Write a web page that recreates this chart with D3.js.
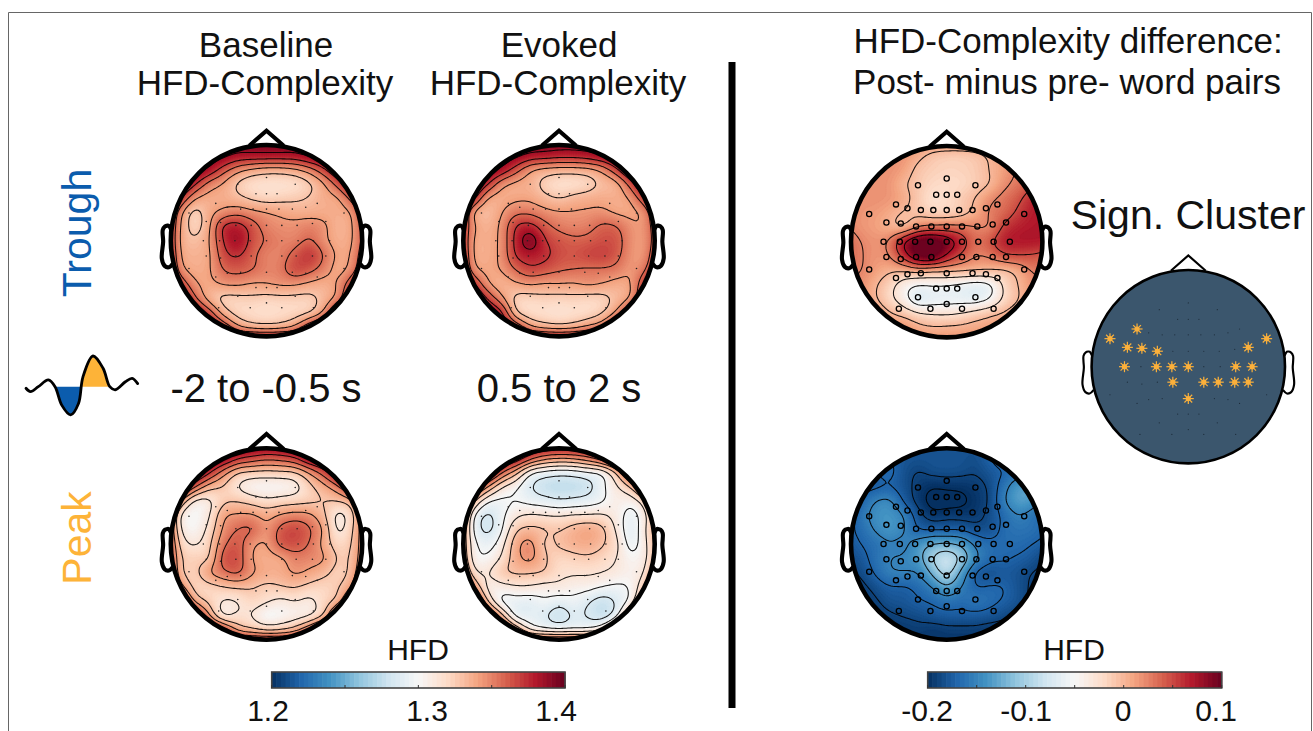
<!DOCTYPE html>
<html><head><meta charset="utf-8">
<script src="https://cdn.jsdelivr.net/npm/d3@7"></script>
<style>html,body{margin:0;padding:0;background:#fff}svg{display:block}text{font-family:"Liberation Sans",Arial,sans-serif;fill:#111}</style>
</head><body><svg id="c" width="1313" height="731"></svg>
<script>
// Values on a 15x15 scalp grid, thousandths of HFD (top row first)
const baselineTrough=[
[1395,1395,1395,1395,1395,1395,1395,1395,1395,1395,1395,1395,1395,1395,1395],
[1395,1395,1395,1395,1392,1385,1385,1385,1385,1385,1392,1395,1395,1395,1395],
[1398,1398,1395,1385,1365,1350,1342,1338,1338,1342,1352,1370,1390,1395,1395],
[1398,1395,1375,1352,1342,1327,1319,1317,1317,1319,1327,1342,1365,1390,1395],
[1395,1375,1345,1338,1338,1332,1326,1322,1324,1326,1330,1338,1342,1365,1390],
[1390,1348,1324,1338,1346,1351,1346,1343,1340,1337,1337,1338,1338,1345,1380],
[1385,1342,1323,1340,1374,1378,1364,1351,1347,1347,1351,1346,1335,1342,1370],
[1385,1340,1331,1342,1372,1386,1365,1356,1351,1351,1359,1346,1337,1342,1368],
[1390,1342,1336,1340,1366,1373,1360,1351,1351,1362,1373,1356,1340,1345,1375],
[1395,1348,1338,1341,1358,1362,1358,1351,1353,1367,1362,1350,1338,1350,1380],
[1395,1370,1345,1340,1345,1346,1342,1343,1346,1345,1340,1337,1345,1370,1390],
[1395,1390,1360,1336,1325,1325,1326,1324,1325,1325,1325,1334,1348,1385,1395],
[1395,1395,1385,1365,1336,1323,1320,1318,1320,1322,1327,1345,1385,1395,1395],
[1395,1395,1395,1385,1370,1345,1335,1333,1335,1345,1370,1385,1395,1395,1395],
[1395,1395,1395,1395,1395,1395,1395,1395,1395,1395,1395,1395,1395,1395,1395]];
const evokedTrough=[
[1395,1395,1395,1395,1395,1395,1395,1395,1395,1395,1395,1395,1395,1395,1395],
[1395,1395,1395,1395,1392,1385,1383,1380,1380,1383,1390,1395,1395,1395,1395],
[1395,1395,1395,1385,1365,1346,1340,1338,1338,1340,1348,1370,1395,1395,1395],
[1395,1395,1375,1348,1340,1336,1324,1318,1318,1322,1332,1338,1365,1395,1395],
[1395,1380,1343,1338,1340,1340,1333,1328,1333,1336,1338,1338,1345,1372,1395],
[1395,1343,1332,1342,1353,1353,1347,1344,1344,1345,1346,1340,1340,1348,1385],
[1385,1346,1336,1346,1372,1377,1362,1353,1350,1352,1360,1358,1346,1346,1375],
[1385,1342,1338,1346,1376,1396,1372,1364,1360,1361,1365,1364,1347,1345,1372],
[1390,1342,1338,1346,1373,1380,1375,1366,1364,1368,1370,1362,1346,1346,1380],
[1395,1348,1340,1344,1358,1368,1364,1359,1357,1355,1355,1353,1344,1355,1385],
[1395,1375,1345,1336,1341,1345,1342,1343,1342,1346,1343,1338,1342,1372,1395],
[1395,1395,1370,1346,1325,1323,1325,1324,1325,1323,1324,1333,1344,1380,1395],
[1395,1395,1390,1375,1330,1320,1318,1316,1318,1320,1327,1345,1375,1395,1395],
[1395,1395,1395,1385,1370,1345,1336,1333,1336,1345,1355,1380,1395,1395,1395],
[1395,1395,1395,1395,1395,1395,1395,1395,1395,1395,1395,1395,1395,1395,1395]];
const baselinePeak=[
[1395,1395,1395,1395,1395,1395,1395,1395,1395,1395,1395,1395,1395,1395,1395],
[1395,1395,1395,1395,1390,1375,1368,1362,1365,1372,1390,1395,1395,1395,1395],
[1395,1395,1395,1375,1350,1330,1326,1325,1326,1328,1345,1365,1390,1395,1395],
[1395,1390,1360,1335,1328,1313,1304,1302,1303,1308,1325,1338,1355,1385,1395],
[1395,1345,1310,1311,1326,1328,1323,1318,1321,1323,1326,1329,1329,1340,1385],
[1375,1312,1301,1312,1341,1345,1345,1338,1345,1349,1346,1332,1309,1325,1365],
[1375,1314,1303,1319,1346,1358,1359,1345,1362,1368,1359,1341,1310,1328,1360],
[1375,1324,1312,1325,1354,1363,1345,1342,1362,1365,1356,1338,1321,1330,1360],
[1380,1330,1325,1328,1363,1365,1342,1338,1340,1351,1349,1345,1327,1332,1362],
[1385,1332,1325,1343,1354,1360,1345,1338,1338,1345,1340,1333,1324,1335,1370],
[1390,1350,1324,1323,1328,1331,1330,1325,1328,1330,1324,1322,1328,1345,1385],
[1395,1385,1340,1326,1312,1314,1322,1316,1310,1314,1310,1322,1335,1375,1395],
[1395,1395,1385,1345,1312,1317,1313,1300,1303,1307,1312,1330,1380,1395,1395],
[1395,1395,1395,1385,1370,1340,1332,1326,1328,1338,1360,1385,1395,1395,1395],
[1395,1395,1395,1395,1395,1395,1395,1395,1395,1395,1395,1395,1395,1395,1395]];
const evokedPeak=[
[1390,1390,1390,1390,1390,1390,1390,1390,1390,1390,1390,1390,1390,1390,1390],
[1390,1390,1390,1390,1385,1365,1350,1345,1347,1355,1370,1390,1390,1390,1390],
[1390,1390,1390,1360,1335,1303,1295,1292,1293,1298,1302,1330,1375,1390,1390],
[1390,1375,1345,1315,1303,1287,1278,1275,1276,1280,1297,1312,1330,1370,1390],
[1385,1335,1302,1297,1300,1295,1292,1288,1290,1293,1298,1308,1305,1325,1375],
[1370,1303,1283,1296,1311,1316,1314,1313,1315,1315,1316,1308,1294,1310,1345],
[1360,1299,1282,1298,1327,1333,1330,1328,1335,1340,1333,1312,1291,1312,1345],
[1355,1306,1294,1308,1338,1348,1326,1331,1336,1338,1331,1318,1294,1310,1340],
[1360,1308,1302,1316,1338,1347,1331,1322,1324,1326,1322,1314,1303,1310,1340],
[1375,1320,1313,1327,1331,1330,1328,1318,1316,1316,1314,1310,1306,1315,1360],
[1385,1350,1310,1308,1312,1312,1308,1310,1306,1305,1300,1297,1302,1330,1375],
[1390,1385,1330,1297,1294,1292,1298,1292,1296,1288,1279,1288,1305,1350,1390],
[1390,1390,1375,1335,1295,1292,1288,1278,1288,1285,1279,1295,1345,1385,1390],
[1390,1390,1390,1375,1345,1312,1303,1301,1302,1303,1315,1350,1385,1390,1390],
[1390,1390,1390,1390,1390,1390,1390,1390,1390,1390,1390,1390,1390,1390,1390]];
// Post minus pre difference, thousandths of HFD
const diffTrough=[
[20,20,20,20,20,20,20,20,20,20,20,20,30,30,30],
[20,20,20,20,18,6,-6,-10,-10,-6,3,15,25,30,30],
[20,20,20,20,12,-6,-12,-15,-14,-10,1,13,28,35,35],
[20,20,20,17,2,-8,-18,-20,-18,-10,0,20,32,45,50],
[20,20,20,17,8,-9,-24,-20,-10,1,20,32,45,65,70],
[25,18,15,8,-2,-5,-13,-14,-8,6,28,38,55,70,72],
[25,18,13,5,-1,25,32,34,32,26,25,55,68,72,72],
[38,25,19,28,75,105,112,92,65,35,45,68,72,72,70],
[38,27,18,24,60,100,105,70,45,25,28,45,48,46,40],
[30,26,14,4,3,10,5,5,3,1,-1,-3,8,28,30],
[20,20,3,-15,-38,-50,-48,-50,-55,-62,-55,-20,1,18,25],
[20,20,3,-18,-40,-68,-62,-60,-60,-62,-50,-20,-1,20,25],
[20,20,20,3,-8,-22,-27,-28,-24,-15,-6,3,15,20,20],
[20,20,20,20,20,8,3,4,6,10,15,20,20,20,20],
[20,20,20,20,20,20,20,20,20,20,20,20,20,20,20]];
const diffPeak=[
[-180,-180,-180,-180,-180,-180,-180,-180,-180,-180,-180,-180,-180,-180,-180],
[-170,-170,-170,-170,-178,-180,-180,-180,-180,-182,-170,-160,-160,-170,-170],
[-170,-170,-170,-165,-180,-188,-183,-182,-183,-186,-178,-170,-160,-160,-170],
[-175,-175,-175,-170,-180,-192,-199,-197,-197,-193,-184,-158,-135,-138,-170],
[-175,-170,-150,-146,-172,-193,-205,-206,-203,-196,-185,-152,-132,-138,-170],
[-185,-160,-143,-138,-150,-180,-195,-192,-193,-193,-182,-165,-150,-160,-170],
[-175,-165,-148,-138,-148,-170,-172,-172,-172,-180,-180,-165,-160,-162,-170],
[-180,-170,-162,-152,-155,-140,-125,-122,-130,-155,-165,-165,-165,-170,-175],
[-185,-178,-162,-150,-148,-135,-100,-80,-105,-145,-165,-168,-172,-178,-190],
[-190,-185,-168,-152,-150,-150,-120,-90,-132,-172,-180,-176,-180,-188,-190],
[-192,-192,-182,-172,-172,-165,-150,-128,-150,-170,-168,-170,-180,-190,-192],
[-195,-195,-190,-180,-178,-172,-168,-160,-165,-160,-165,-172,-180,-192,-195],
[-195,-195,-195,-190,-186,-183,-178,-175,-175,-175,-178,-184,-190,-195,-195],
[-195,-195,-195,-195,-195,-192,-195,-192,-192,-192,-195,-195,-195,-195,-195],
[-195,-195,-195,-195,-195,-195,-195,-195,-195,-195,-195,-195,-195,-195,-195]];
const hfdLevels=[1286,1300,1314,1329,1343,1357,1371,1386];
const diffTroughLevels=[-75,-50,-25,0,25,50,75];
const diffPeakLevels=[-200,-187,-170,-150,-125,-100];
const rdbuStops=["#053061","#2166ac","#4393c3","#92c5de","#d1e5f0","#f7f7f7","#fddbc7","#f4a582","#d6604d","#b2182b","#67001f"];
// Sensor layout, unit-circle coordinates (x right, y up)
const sensorX=[0,-.30,.30,-.11,0,.11,-.53,.53,-.41,-.27,-.14,0,.13,.27,.41,-.81,.81,-.63,-.48,.62,-.32,-.16,0,.16,.32,.48,-.66,-.49,-.33,-.17,0,.16,.33,.49,.66,-.63,-.48,-.32,-.16,.16,.31,.48,.62,-.81,.81,-.53,-.41,-.27,0,.27,.41,.53,-.11,0,.11,-.30,.30,0,-.50,-.17,.16,.49];
const sensorY=[.66,.59,.59,.49,.49,.49,.39,.39,.35,.33,.33,.33,.33,.33,.35,.29,.29,.20,.19,.20,.16,.16,.16,.16,.16,.18,0,0,0,0,0,0,0,0,0,-.16,-.18,-.16,-.16,-.16,-.16,-.16,-.16,-.29,-.29,-.38,-.34,-.33,-.33,-.33,-.34,-.38,-.49,-.49,-.49,-.58,-.58,-.65,-.70,-.70,-.70,-.70];
const clusterSensors=[15,6,17,18,20,26,28,29,30,38,48,39,40,41,42,33,34,19,16];
const hfdTicks=[1.2,1.25,1.3,1.35,1.4];
const hfdTickLabels=["1.2","1.3","1.4"];
const diffTicks=[-.2,-.15,-.1,-.05,0,.05,.1];
const diffTickLabels=["-0.2","-0.1","0","0.1"];
const waveTime=[0,.04,.11,.2,.26,.32,.40,.47,.51,.60,.69,.75,.80,.89,.95,1];
const waveAmp=[-.05,-.16,0,.22,0,-.6,-.92,-.55,.32,1,.6,0,-.1,.16,.27,.1];
const earX=[.994,1.02,1.036,1.06,1.084,1.08,1.094,1.064,1.02,.978];
const earY=[.111,.155,.157,.149,.111,-.011,-.186,-.263,-.277,-.24];
const noseX=[.18,0,-.18];
const noseY=[.9926,1.15,.9926];

const svg=d3.select("#c");
const n=15,up=8,ext=1.05,N=(n-1)*up+1;
const rdbu=d3.piecewise(d3.interpolateRgb,rdbuStops);
const hfdColor=d3.scaleSequential(rdbu).domain([1200,1400]).clamp(true);
const diffColor=d3.scaleSequential(rdbu).domain([-200,100]).clamp(true);

// Catmull-Rom resampling for display of the grid, then light smoothing
function cr(a,b,c,d,t){return .5*(2*b+(c-a)*t+(2*a-5*b+4*c-d)*t*t+(3*b-a-3*c+d)*t*t*t)}
function resample(g){
  const out=new Float64Array(N*N),at=(j,i)=>g[Math.max(0,Math.min(n-1,j))][Math.max(0,Math.min(n-1,i))];
  for(let y=0;y<N;y++)for(let x=0;x<N;x++){
    const fy=y/up,fx=x/up,j=Math.floor(fy),i=Math.floor(fx),ty=fy-j,tx=fx-i,r=[];
    for(let k=-1;k<=2;k++)r.push(cr(at(j+k,i-1),at(j+k,i),at(j+k,i+1),at(j+k,i+2),tx));
    out[y*N+x]=cr(r[0],r[1],r[2],r[3],ty);
  }
  d3.blur2({data:out,width:N,height:N},2);
  return out;
}
let uid=0;
function head(cx,cy,r,lw){
  const g=svg.append("g");
  const sx=d3.scaleLinear().domain([-1,1]).range([cx-r,cx+r]),sy=d3.scaleLinear().domain([-1,1]).range([cy+r,cy-r]);
  const ln=d3.line().x(d=>sx(d[0])).y(d=>sy(d[1]));
  const ear=d3.line().curve(d3.curveCatmullRom).x(d=>sx(d[0])).y(d=>sy(d[1]));
  g.append("path").attr("d",ln(d3.zip(noseX,noseY))).attr("fill","none").attr("stroke","#000").attr("stroke-width",lw*.9);
  g.append("path").attr("d",ear(d3.zip(earX,earY))).attr("fill","none").attr("stroke","#000").attr("stroke-width",lw*.9);
  g.append("path").attr("d",ear(d3.zip(earX.map(v=>-v),earY))).attr("fill","none").attr("stroke","#000").attr("stroke-width",lw*.9);
  return {sx,sy};
}
function topo(cx,cy,r,grid,color,levels,lo,hi,rings){
  const {sx,sy}=head(cx,cy,r,4.6);
  const id="clip"+(uid++);
  svg.append("clipPath").attr("id",id).append("circle").attr("cx",cx).attr("cy",cy).attr("r",r);
  const g=svg.append("g").attr("clip-path",`url(#${id})`);
  const f=resample(grid);
  const px=d3.scaleLinear().domain([.5,N-.5]).range([cx-ext*r,cx+ext*r]);
  const py=d3.scaleLinear().domain([.5,N-.5]).range([cy-ext*r,cy+ext*r]);
  const path=d3.geoPath(d3.geoTransform({point(x,y){this.stream.point(px(x),py(y))}}));
  const bands=d3.range(lo,hi,(hi-lo)/128);
  const maker=d3.contours().size([N,N]).smooth(true);
  g.append("rect").attr("x",cx-r).attr("y",cy-r).attr("width",2*r).attr("height",2*r).attr("fill",color(lo));
  g.selectAll(".b").data(maker.thresholds(bands)(f)).join("path").attr("d",path).attr("fill",d=>color(d.value)).attr("stroke",d=>color(d.value)).attr("stroke-width",.4);
  g.selectAll(".l").data(maker.thresholds(levels)(f)).join("path").attr("d",path).attr("fill","none").attr("stroke","#000").attr("stroke-width",1.05).attr("opacity",.9);
  const s=d3.range(sensorX.length);
  if(rings) g.selectAll(".s").data(s).join("circle").attr("cx",i=>sx(sensorX[i])).attr("cy",i=>sy(sensorY[i])).attr("r",2.6).attr("fill","none").attr("stroke","#000").attr("stroke-width",1.3);
  else g.selectAll(".s").data(s).join("circle").attr("cx",i=>sx(sensorX[i])).attr("cy",i=>sy(sensorY[i])).attr("r",.8).attr("fill","#222");
  svg.append("circle").attr("cx",cx).attr("cy",cy).attr("r",r).attr("fill","none").attr("stroke","#000").attr("stroke-width",4.6);
}
const R=95.7;
topo(266.5,240.7,R,baselineTrough,hfdColor,hfdLevels,1200,1400,false);
topo(559,240.7,R,evokedTrough,hfdColor,hfdLevels,1200,1400,false);
topo(266.5,544,R,baselinePeak,hfdColor,hfdLevels,1200,1400,false);
topo(559,544,R,evokedPeak,hfdColor,hfdLevels,1200,1400,false);
topo(946.7,241.7,R,diffTrough,diffColor,diffTroughLevels,-200,100,true);
topo(946.7,544,R,diffPeak,diffColor,diffPeakLevels,-200,100,true);

// Significant cluster map
(function(){
  const cx=1188.3,cy=366.7,r=96.7,{sx,sy}=head(cx,cy,r,2.4);
  svg.append("circle").attr("cx",cx).attr("cy",cy).attr("r",r).attr("fill","#3b566d").attr("stroke","#000").attr("stroke-width",2.6);
  const set=new Set(clusterSensors);
  svg.selectAll(".d").data(d3.range(sensorX.length).filter(i=>!set.has(i))).join("circle").attr("cx",i=>sx(sensorX[i])).attr("cy",i=>sy(sensorY[i])).attr("r",.6).attr("fill","#1d2c3a");
  const rays=d3.range(8).map(k=>k*Math.PI/4);
  const star=svg.selectAll(".st").data(clusterSensors).join("g").attr("transform",i=>`translate(${sx(sensorX[i])},${sy(sensorY[i])})`);
  star.selectAll("line").data(rays).join("line").attr("x2",a=>5.5*Math.cos(a)).attr("y2",a=>5.5*Math.sin(a)).attr("stroke","#fbb03b").attr("stroke-width",1.2);
  star.append("circle").attr("r",2.6).attr("fill","#fbb03b");
})();

// Colorbars
function colorbar(x0,x1,color,lo,hi,ticks,labels,labelX,titleX){
  const y0=672,y1=688,x=d3.scaleLinear().domain([lo,hi]).range([x0,x1]),m=64;
  svg.selectAll(null).data(d3.range(m)).join("rect").attr("x",i=>x0+(x1-x0)*i/m).attr("y",y0).attr("width",(x1-x0)/m+.6).attr("height",y1-y0).attr("fill",i=>color(lo+(hi-lo)*(i+.5)/m));
  svg.append("rect").attr("x",x0).attr("y",y0).attr("width",x1-x0).attr("height",y1-y0).attr("fill","none").attr("stroke","#444").attr("stroke-width",1.6);
  svg.selectAll(null).data(ticks).join("line").attr("x1",x).attr("x2",x).attr("y1",y1-3).attr("y2",y1).attr("stroke","#333").attr("stroke-width",1);
  svg.selectAll(null).data(labels).join("text").attr("x",(d,i)=>labelX[i]).attr("y",721).attr("text-anchor","middle").attr("font-size",30).text(d=>d);
  svg.append("text").attr("x",titleX).attr("y",660).attr("text-anchor","middle").attr("font-size",30).text("HFD");
}
colorbar(271.7,565,v=>hfdColor(v*1000),1.2,1.4,hfdTicks,hfdTickLabels,[268,427,556],418);
colorbar(927.7,1221.7,v=>diffColor(v*1000),-.2,.1,diffTicks,diffTickLabels,[927,1026,1123,1216],1074);

// Texts
function t(x,y,s,size){return svg.append("text").attr("x",x).attr("y",y).attr("text-anchor","middle").attr("font-size",size).text(s)}
t(266,57,"Baseline",35);t(265,95,"HFD-Complexity",35);
t(559,57,"Evoked",35);t(558,95,"HFD-Complexity",35);
t(1068,53,"HFD-Complexity difference:",35);t(1067,94,"Post- minus pre- word pairs",35);
t(1188,229,"Sign. Cluster",41);
t(266,402,"-2 to -0.5 s",40);t(559,402,"0.5 to 2 s",40);
svg.append("text").attr("transform","translate(91,233) rotate(-90)").attr("text-anchor","middle").attr("font-size",41).style("fill","#0b5cad").text("Trough");
svg.append("text").attr("transform","translate(91,538) rotate(-90)").attr("text-anchor","middle").attr("font-size",41).style("fill","#fdb338").text("Peak");

// Divider and frame
svg.append("line").attr("x1",732).attr("x2",732).attr("y1",62).attr("y2",708).attr("stroke","#000").attr("stroke-width",7);
svg.append("path").attr("d","M8.5,731V12.5H1311.5V731").attr("fill","none").attr("stroke","#666").attr("stroke-width",1);

// Waveform icon
(function(){
  const wx=d3.scaleLinear().domain([0,1]).range([26,137.7]),wy=d3.scaleLinear().domain([0,1]).range([386.7,356]);
  const pts=d3.zip(waveTime,waveAmp);
  const curve=d3.curveMonotoneX;
  const area=d3.area().curve(curve).x(d=>wx(d[0])).y0(wy(0)).y1(d=>wy(d[1]));
  svg.append("path").attr("d",area(pts.filter(d=>d[0]>=.26&&d[0]<=.47).concat([[.495,0]]))).attr("fill","#0b5cad");
  svg.append("path").attr("d",area([[.495,0.02]].concat(pts.filter(d=>d[0]>=.51&&d[0]<=.75)))).attr("fill","#fdb338");
  svg.append("path").attr("d",d3.line().curve(d3.curveCatmullRom).x(d=>wx(d[0])).y(d=>wy(d[1]))(pts)).attr("fill","none").attr("stroke","#000").attr("stroke-width",2.8).attr("stroke-linecap","round");
})();
</script></body></html>
